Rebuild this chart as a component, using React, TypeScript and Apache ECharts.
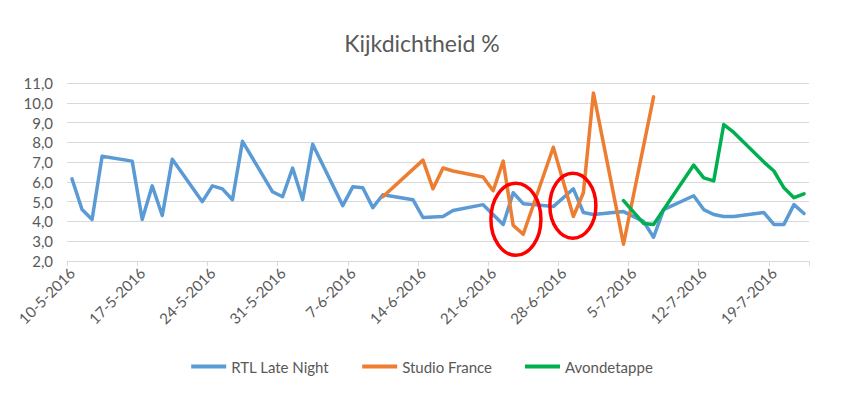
import React, { useEffect, useRef } from "react";
import * as echarts from "echarts";

const startDate = "10-5-2016";
const dayCount = 74;
const yTicks = { min: 2, max: 11, step: 1 };

const rtlDates = ["10-5-2016","11-5-2016","12-5-2016","13-5-2016","16-5-2016","17-5-2016","18-5-2016","19-5-2016","20-5-2016","23-5-2016","24-5-2016","25-5-2016","26-5-2016","27-5-2016","30-5-2016","31-5-2016","1-6-2016","2-6-2016","3-6-2016","6-6-2016","7-6-2016","8-6-2016","9-6-2016","10-6-2016","13-6-2016","14-6-2016","16-6-2016","17-6-2016","20-6-2016","22-6-2016","23-6-2016","24-6-2016","25-6-2016","27-6-2016","29-6-2016","30-6-2016","1-7-2016","4-7-2016","6-7-2016","7-7-2016","8-7-2016","11-7-2016","12-7-2016","13-7-2016","14-7-2016","15-7-2016","18-7-2016","19-7-2016","20-7-2016","21-7-2016","22-7-2016"];
const rtlValues = [6.15,4.6,4.1,7.3,7.05,4.1,5.8,4.3,7.15,5.0,5.8,5.65,5.1,8.05,5.5,5.25,6.7,5.1,7.9,4.8,5.75,5.7,4.7,5.35,5.1,4.2,4.25,4.55,4.85,3.85,5.45,4.9,4.85,4.75,5.65,4.45,4.35,4.5,4.0,3.2,4.6,5.3,4.6,4.35,4.25,4.25,4.45,3.85,3.85,4.85,4.4];

const studioDates = ["10-6-2016","14-6-2016","15-6-2016","16-6-2016","17-6-2016","20-6-2016","21-6-2016","22-6-2016","23-6-2016","24-6-2016","27-6-2016","29-6-2016","30-6-2016","1-7-2016","4-7-2016","7-7-2016"];
const studioValues = [5.25,7.1,5.65,6.7,6.55,6.25,5.55,7.05,3.8,3.35,7.75,4.25,5.45,10.5,2.85,10.3];

const avondDates = ["4-7-2016","6-7-2016","7-7-2016","11-7-2016","12-7-2016","13-7-2016","14-7-2016","15-7-2016","18-7-2016","19-7-2016","20-7-2016","21-7-2016","22-7-2016"];
const avondValues = [5.05,3.9,3.85,6.85,6.2,6.05,8.9,8.5,7.0,6.55,5.7,5.2,5.4];

// annotation ellipses: [category position, value]
const circleCenters = [[44.27, 4.11], [49.95, 4.79]];
const circleRadii = [[25, 36], [23, 32.5]];

function parseDate(s: string) {
  const [d, m, y] = s.split("-").map(Number);
  return Date.UTC(y, m - 1, d);
}
function fmtDate(t: number) {
  const d = new Date(t);
  return `${d.getUTCDate()}-${d.getUTCMonth() + 1}-${d.getUTCFullYear()}`;
}
const t0 = parseDate(startDate);
const categories: string[] = [];
for (let i = 0; i < dayCount; i++) categories.push(fmtDate(t0 + i * 86400000));

function toSeries(dates: string[], values: number[]) {
  const arr: (number | null)[] = categories.map(() => null);
  dates.forEach((d, i) => {
    const idx = categories.indexOf(d);
    if (idx >= 0) arr[idx] = values[i];
  });
  return arr;
}

const FONT = "Lato, 'Open Sans', sans-serif";
const TXT = "#595959";

export default function App() {
  const ref = useRef<HTMLDivElement>(null);
  useEffect(() => {
    if (!ref.current) return;
    const chart = echarts.init(ref.current, undefined, { renderer: "svg" });
    const mkLine = (name: string, color: string, data: (number | null)[]) => ({
      name,
      type: "line",
      data,
      connectNulls: true,
      symbol: "none",
      color,
      lineStyle: { width: 3.5, color, cap: "round", join: "round" },
    });
    chart.setOption({
      animation: false,
      textStyle: { fontFamily: FONT },
      title: {
        text: "Kijkdichtheid %",
        left: "center",
        top: 26,
        textStyle: { fontFamily: FONT, fontSize: 23, fontWeight: "normal", color: TXT },
      },
      legend: {
        bottom: 19,
        left: "center",
        icon: "rect",
        itemWidth: 35,
        itemHeight: 4,
        itemGap: 33,
        textStyle: { fontFamily: FONT, fontSize: 15, color: TXT },
        data: ["RTL Late Night", "Studio France", "Avondetappe"],
      },
      grid: { left: 67, right: 35, top: 83, bottom: 137, containLabel: false },
      xAxis: {
        type: "category",
        data: categories,
        boundaryGap: true,
        axisLine: { lineStyle: { color: "#D9D9D9", width: 1 } },
        axisTick: { show: true, interval: 6, length: 5, lineStyle: { color: "#D9D9D9" } },
        axisLabel: {
          interval: 6,
          rotate: 45,
          margin: 9,
          fontFamily: FONT,
          fontSize: 15,
          color: TXT,
        },
        splitLine: { show: false },
      },
      yAxis: {
        type: "value",
        min: yTicks.min,
        max: yTicks.max,
        interval: yTicks.step,
        axisLine: { show: false },
        axisTick: { show: false },
        axisLabel: {
          fontFamily: FONT,
          fontSize: 15,
          color: TXT,
          margin: 14,
          formatter: (v: number) => v.toFixed(1).replace(".", ","),
        },
        splitLine: { lineStyle: { color: "#D9D9D9", width: 1 } },
      },
      series: [
        mkLine("RTL Late Night", "#5B9BD5", toSeries(rtlDates, rtlValues)),
        mkLine("Studio France", "#ED7D31", toSeries(studioDates, studioValues)),
        mkLine("Avondetappe", "#00B050", toSeries(avondDates, avondValues)),
      ],
    });
    const px = (c: number, v: number) => {
      const i = Math.floor(c);
      const a = chart.convertToPixel({ gridIndex: 0 }, [i, v]) as number[];
      const b = chart.convertToPixel({ gridIndex: 0 }, [i + 1, v]) as number[];
      return [a[0] + (b[0] - a[0]) * (c - i), a[1]];
    };
    chart.setOption({
      graphic: circleCenters.map((cc, k) => {
        const p = px(cc[0], cc[1]);
        return {
          type: "ellipse",
          shape: { cx: p[0], cy: p[1], rx: circleRadii[k][0], ry: circleRadii[k][1] },
          style: { fill: "none", stroke: "#FF0000", lineWidth: 3.5 },
          z: 100,
        };
      }),
    });
    return () => chart.dispose();
  }, []);
  return (
    <div
      ref={ref}
      style={{ position: "absolute", left: 0, top: 0, width: 844, height: 398 }}
    />
  );
}
